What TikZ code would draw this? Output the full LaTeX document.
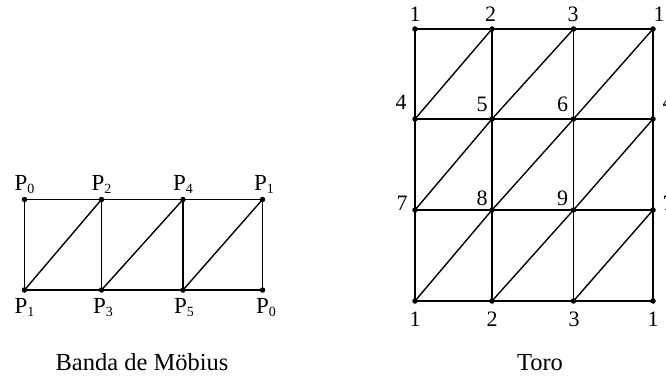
\documentclass[tikz,border=0pt]{standalone}
\usepackage{fontspec}
\setmainfont{Liberation Serif}
\newcommand\Psub[1]{P\raisebox{-3.5pt}{\fontsize{14}{14}\selectfont #1}}
\begin{document}
\begin{tikzpicture}[x=1pt,y=-1pt,line width=1.4pt,
  dotmark/.style={circle,fill,inner sep=0pt,minimum size=5.5pt},
  numlab/.style={anchor=base,inner sep=0pt,font=\fontsize{22}{22}\selectfont},
  plab/.style={anchor=base,inner sep=0pt,font=\fontsize{23}{23}\selectfont},
  captext/.style={anchor=base,inner sep=0pt,font=\fontsize{24.5}{24.5}\selectfont},
  gridline/.style={draw,line width=1.4pt}]
\useasboundingbox (0,0) rectangle (666,377);
% ---------- Moebius band ----------
\coordinate (a1) at (24.5,199.5);
\coordinate (a2) at (101.5,199.5);
\coordinate (a3) at (183,199.5);
\coordinate (a4) at (262.5,199.5);
\coordinate (b1) at (24.5,290);
\coordinate (b2) at (101.5,290);
\coordinate (b3) at (183,290);
\coordinate (b4) at (262.5,290);
\path[gridline] (a1) -- (a2) -- (a3) -- (a4);
\path[gridline] (b1) -- (b2) -- (b3) -- (b4);
\foreach \i in {1,2,3,4} {\path[gridline] (a\i) -- (b\i);}
\path[gridline] (b1) -- (a2);
\path[gridline] (b2) -- (a3);
\path[gridline] (b3) -- (a4);
\foreach \p in {a1,a2,a3,a4,b1,b2,b3,b4} {\node[dotmark] at (\p) {};}
\node[plab] (la1) at (24.5,190) {\Psub{0}};
\node[plab] (la2) at (101.5,190) {\Psub{2}};
\node[plab] (la3) at (183,190) {\Psub{4}};
\node[plab] (la4) at (264,190) {\Psub{1}};
\node[plab] (lb1) at (24.5,313) {\Psub{1}};
\node[plab] (lb2) at (103,313) {\Psub{3}};
\node[plab] (lb3) at (184,313) {\Psub{5}};
\node[plab] (lb4) at (266,313) {\Psub{0}};
\node[captext] (capm) at (142,370) {Banda de Möbius};
% ---------- Torus ----------
\foreach \c/\x in {1/415,2/492,3/573.5,4/653} {
  \foreach \r/\y in {1/29,2/119,3/210,4/301} {
    \coordinate (t\c\r) at (\x,\y);
  }
}
\foreach \r in {1,2,3,4} {\path[gridline] (t1\r) -- (t2\r) -- (t3\r) -- (t4\r);}
\foreach \c in {1,2,3,4} {\path[gridline] (t\c1) -- (t\c2) -- (t\c3) -- (t\c4);}
\foreach \c/\cn in {1/2,2/3,3/4} {
  \foreach \r/\rn in {2/1,3/2,4/3} {
    \path[gridline] (t\c\r) -- (t\cn\rn);
  }
}
\foreach \c in {1,2,3,4} {\foreach \r in {1,2,3,4} {\node[dotmark] at (t\c\r) {};}}
\node[numlab] (n1a) at (415,22) {1};
\node[numlab] (n2a) at (490.5,22) {2};
\node[numlab] (n3a) at (573,22) {3};
\node[numlab] (n1b) at (659,22) {1};
\node[numlab] (n4a) at (401,110) {4};
\node[numlab] (n5) at (482,112) {5};
\node[numlab] (n6) at (562.5,112) {6};
\node[numlab] (n4b) at (668,110) {4};
\node[numlab] (n7a) at (402,210) {7};
\node[numlab] (n8) at (482,205) {8};
\node[numlab] (n9) at (562.5,205) {9};
\node[numlab] (n7b) at (668,210) {7};
\node[numlab] (n1c) at (415,326) {1};
\node[numlab] (n2b) at (492,326) {2};
\node[numlab] (n3b) at (574,326) {3};
\node[numlab] (n1d) at (653,326) {1};
\node[captext] (capt) at (540,370) {Toro};
\end{tikzpicture}
\end{document}
